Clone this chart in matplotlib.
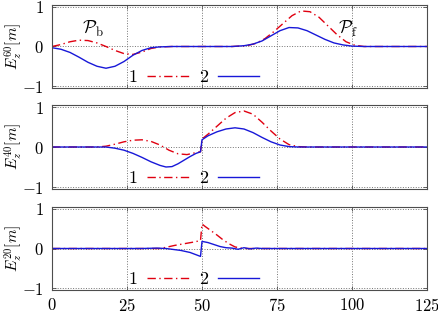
import numpy as np
import matplotlib
matplotlib.use("Agg")
import matplotlib.pyplot as plt

plt.rcParams['mathtext.fontset'] = 'cm'
plt.rcParams['font.family'] = 'serif'
plt.rcParams['font.serif'] = ['cmr10', 'DejaVu Serif']
plt.rcParams['axes.formatter.use_mathtext'] = True

# panel 1: E_z^60
x60_1 = [0, 3, 6, 9, 12, 15, 18, 21, 24, 27, 30, 33, 36, 40, 60, 65, 68, 71, 74, 77, 80, 83, 86, 89, 92, 95, 98, 101, 104, 125]
y60_1 = [0, 0.05, 0.12, 0.16, 0.15, 0.09, 0, -0.1, -0.18, -0.2, -0.14, -0.05, -0.01, 0, 0, 0.02, 0.08, 0.2, 0.38, 0.58, 0.78, 0.9, 0.88, 0.74, 0.52, 0.3, 0.12, 0.03, 0, 0]
x60_2 = [0, 3, 6, 9, 12, 15, 18, 21, 24, 27, 30, 33, 36, 40, 60, 64, 67, 70, 73, 76, 79, 82, 85, 88, 91, 94, 97, 100, 104, 125]
y60_2 = [-0.03, -0.07, -0.15, -0.27, -0.4, -0.5, -0.55, -0.5, -0.38, -0.22, -0.1, -0.03, -0.01, 0, 0, 0.02, 0.06, 0.14, 0.27, 0.4, 0.48, 0.47, 0.4, 0.29, 0.18, 0.09, 0.04, 0.01, 0, 0]

# panel 2: E_z^40
x40_1 = [0, 15, 18, 21, 24, 27, 30, 33, 36, 39, 42, 45, 48, 49.5, 50, 52, 55, 58, 61, 64, 67, 70, 73, 76, 79, 82, 85, 125]
y40_1 = [0, 0, 0.02, 0.07, 0.13, 0.17, 0.18, 0.14, 0.05, -0.08, -0.17, -0.19, -0.14, -0.12, 0.2, 0.32, 0.52, 0.72, 0.86, 0.9, 0.82, 0.62, 0.4, 0.2, 0.06, 0.01, 0, 0]
x40_2 = [0, 18, 21, 24, 27, 30, 33, 36, 38, 40, 42, 44, 46, 48, 49.5, 50, 52, 55, 58, 61, 64, 67, 70, 73, 76, 79, 82, 125]
y40_2 = [0, 0, -0.03, -0.08, -0.16, -0.26, -0.37, -0.46, -0.5, -0.49, -0.42, -0.33, -0.24, -0.16, -0.12, 0.18, 0.28, 0.38, 0.45, 0.48, 0.45, 0.36, 0.24, 0.13, 0.05, 0.01, 0, 0]

# panel 3: E_z^20
x20_1 = [0, 36, 38, 41, 44, 47, 49.5, 50, 51, 53, 55, 57, 59, 61, 63, 65, 125]
y20_1 = [0, 0, 0.03, 0.08, 0.12, 0.16, 0.2, 0.62, 0.56, 0.45, 0.34, 0.22, 0.12, 0.04, 0.01, 0, 0]
x20_2 = [0, 30, 35, 38, 40, 43, 46, 49.5, 50, 52, 54, 56, 58, 60, 62, 64, 66, 68, 70, 125]
y20_2 = [0, 0, 0.01, 0, -0.02, -0.05, -0.1, -0.2, 0.18, 0.15, 0.1, 0.05, 0.02, 0.01, -0.02, 0.02, -0.01, 0.01, 0, 0]

labels = ['$E_z^{60}[m]$', '$E_z^{40}[m]$', '$E_z^{20}[m]$']
series = [(x60_1, y60_1, x60_2, y60_2), (x40_1, y40_1, x40_2, y40_2), (x20_1, y20_1, x20_2, y20_2)]
xticks = [0, 25, 50, 75, 100, 125]
yticks = [-1, 0, 1]

red = '#e00010'
blue = '#1818d8'

fig = plt.figure(figsize=(4.39, 3.14), dpi=100)
W, H = 439, 314
boxes = [(5, 88), (105, 189), (207, 290)]

for i, (top, bot) in enumerate(boxes):
    ax = fig.add_axes([52 / W, 1 - bot / H, 375 / W, (bot - top) / H])
    xa, ya, xb, yb = series[i]
    ax.plot(xa, ya, color=red, lw=1.0, ls=(0, (6, 2.5, 1, 2.5)), label='1')
    ax.plot(xb, yb, color=blue, lw=1.0, label='2')
    ax.set_xlim(0, 125)
    ax.set_ylim(-1.05, 1.05)
    ax.set_xticks(xticks)
    ax.set_yticks(yticks)
    ax.set_yticklabels(['$%d$' % v for v in yticks], fontsize=12)
    if i == 2:
        ax.set_xticklabels(['$%d$' % v for v in xticks], fontsize=12)
    else:
        ax.set_xticklabels([])
    ax.grid(True, ls=':', color='0.45', lw=0.7)
    ax.set_axisbelow(True)
    ax.tick_params(direction='in', top=True, right=True, length=3, width=0.6, color='0.3')
    ax.tick_params(axis='y', pad=6)
    ax.tick_params(axis='x', pad=5)
    for s in ax.spines.values():
        s.set_color('0.3')
        s.set_linewidth(0.8)
    ax.set_ylabel(labels[i], fontsize=11)
    ax.yaxis.set_label_coords(-0.074, 0.5)
    ax.legend(ncol=2, markerfirst=False, frameon=False, loc='center left',
              bbox_to_anchor=(0.18, 0.13), borderpad=0, handlelength=2.3,
              handletextpad=0.55, columnspacing=0.55, fontsize=13)
    if i == 0:
        ax.text(13.5, 0.45, r'$\mathcal{P}_\mathrm{b}$', fontsize=13, ha='center', va='center')
        ax.text(98.5, 0.45, r'$\mathcal{P}_\mathrm{f}$', fontsize=13, ha='center', va='center')

fig.savefig('out.png', dpi=100)
